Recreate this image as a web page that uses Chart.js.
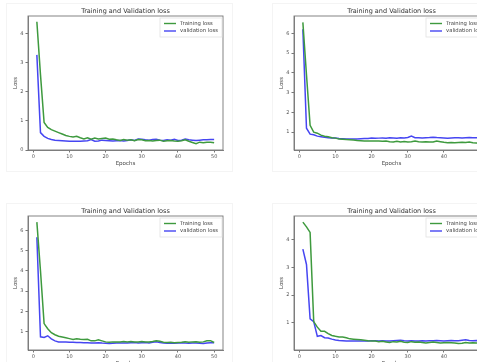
<!DOCTYPE html>
<html lang="en">
<head>
<meta charset="UTF-8">
<title>Training and Validation loss</title>
<script src="https://cdn.jsdelivr.net/npm/chart.js"></script>
<style>
  html, body { margin: 0; padding: 0; background: #fff; overflow: hidden; width: 477px; height: 362px; }
  .fig { position: absolute; width: 240px; height: 180px; }
  canvas { filter: blur(0.3px); }
</style>
</head>
<body>
<div class="fig" style="left:0;top:0"><canvas id="c1" width="240" height="180"></canvas></div>
<div class="fig" style="left:266px;top:0"><canvas id="c2" width="240" height="180"></canvas></div>
<div class="fig" style="left:0;top:200px"><canvas id="c3" width="240" height="180"></canvas></div>
<div class="fig" style="left:266px;top:200px"><canvas id="c4" width="240" height="180"></canvas></div>

<script>
// epochs on the x axis
const epochs = [1,2,3,4,5,6,7,8,9,10,11,12,13,14,15,16,17,18,19,20,21,22,23,24,25,
  26,27,28,29,30,31,32,33,34,35,36,37,38,39,40,41,42,43,44,45,46,47,48,49,50];
const xTicks = [0, 10, 20, 30, 40, 50];

// top left
const train1 = [4.42,2.6,0.95,0.78,0.7,0.65,0.6,0.55,0.5,0.47,0.45,0.47,0.42,0.38,0.42,0.37,0.41,0.38,0.4,0.41,
  0.37,0.38,0.35,0.33,0.36,0.34,0.35,0.32,0.36,0.35,0.32,0.33,0.31,0.33,0.34,0.3,0.32,0.33,0.31,0.3,
  0.32,0.35,0.3,0.26,0.22,0.27,0.25,0.27,0.27,0.25];
const val1 = [3.28,0.6,0.47,0.4,0.36,0.34,0.33,0.32,0.31,0.3,0.3,0.3,0.3,0.31,0.32,0.36,0.3,0.31,0.34,0.33,
  0.32,0.31,0.32,0.33,0.31,0.33,0.35,0.33,0.38,0.37,0.35,0.34,0.36,0.37,0.34,0.33,0.35,0.34,0.37,0.33,
  0.34,0.38,0.35,0.34,0.33,0.34,0.35,0.35,0.36,0.36];

// top right
const train2 = [6.55,3.9,1.35,1.0,0.95,0.85,0.8,0.77,0.72,0.7,0.65,0.64,0.63,0.62,0.6,0.58,0.57,0.56,0.56,0.55,
  0.56,0.55,0.54,0.55,0.52,0.5,0.54,0.5,0.53,0.5,0.52,0.55,0.52,0.5,0.52,0.5,0.51,0.55,0.52,0.49,
  0.47,0.48,0.47,0.48,0.49,0.48,0.5,0.47,0.45,0.42];
const val2 = [6.2,1.2,0.9,0.87,0.8,0.77,0.74,0.72,0.7,0.7,0.68,0.67,0.66,0.66,0.65,0.66,0.67,0.68,0.68,0.7,
  0.69,0.7,0.71,0.7,0.72,0.71,0.7,0.72,0.71,0.73,0.8,0.72,0.72,0.71,0.72,0.73,0.75,0.73,0.72,0.71,
  0.7,0.71,0.72,0.72,0.71,0.72,0.73,0.72,0.72,0.73];

// bottom left
const train3 = [6.4,4.0,1.4,1.15,0.95,0.85,0.78,0.74,0.7,0.66,0.62,0.65,0.63,0.62,0.63,0.55,0.55,0.6,0.55,0.5,
  0.48,0.5,0.49,0.5,0.52,0.5,0.52,0.5,0.5,0.52,0.5,0.5,0.52,0.55,0.53,0.48,0.47,0.48,0.46,0.47,
  0.48,0.5,0.48,0.5,0.51,0.48,0.5,0.55,0.56,0.47];
const val3 = [5.65,0.75,0.72,0.8,0.65,0.55,0.5,0.5,0.49,0.48,0.48,0.47,0.47,0.46,0.46,0.45,0.45,0.46,0.44,0.43,
  0.42,0.43,0.44,0.45,0.44,0.45,0.46,0.47,0.45,0.46,0.47,0.45,0.48,0.5,0.47,0.44,0.43,0.44,0.43,0.44,
  0.46,0.44,0.43,0.44,0.45,0.43,0.42,0.45,0.46,0.46];

// bottom right
const train4 = [4.62,4.45,4.25,1.05,0.85,0.7,0.7,0.62,0.55,0.52,0.5,0.5,0.47,0.43,0.42,0.41,0.4,0.38,0.36,0.35,
  0.35,0.33,0.34,0.32,0.3,0.33,0.32,0.34,0.31,0.3,0.33,0.31,0.32,0.3,0.28,0.3,0.32,0.3,0.28,0.29,
  0.3,0.29,0.28,0.26,0.27,0.3,0.28,0.29,0.28,0.28];
const val4 = [3.65,3.1,1.15,1.05,0.52,0.55,0.47,0.46,0.42,0.39,0.37,0.36,0.35,0.35,0.35,0.35,0.35,0.35,0.35,0.36,
  0.36,0.35,0.36,0.35,0.35,0.36,0.37,0.38,0.36,0.35,0.36,0.35,0.35,0.36,0.35,0.36,0.36,0.37,0.36,0.35,
  0.36,0.37,0.36,0.36,0.38,0.4,0.37,0.36,0.37,0.36];

const FONT = '"DejaVu Sans", sans-serif';
const GREEN = '#3e9a3e';
const BLUE = '#4646f2';

// title above the plot box, full frame and legend box inside the plot (matplotlib look)
const mplDecor = {
  id: 'mplDecor',
  beforeDraw(chart) {
    const ctx = chart.ctx;
    ctx.save();
    ctx.strokeStyle = '#f4f4f4';
    ctx.lineWidth = 1;
    ctx.strokeRect(6.5, 3.5, 226, 168);
    ctx.restore();
  },
  afterDatasetsDraw(chart) {
    const { ctx, chartArea: a } = chart;
    ctx.save();
    // frame
    ctx.strokeStyle = '#777';
    ctx.lineWidth = 0.9;
    ctx.strokeRect(a.left, a.top, a.right - a.left, a.bottom - a.top);
    // title
    ctx.fillStyle = '#333';
    ctx.font = '6.5px ' + FONT;
    ctx.textAlign = 'center';
    ctx.textBaseline = 'middle';
    ctx.fillText('Training and Validation loss', (a.left + a.right) / 2, a.top - 5);
    // legend
    const w = 62, h = 19, x = a.right - w - 1, y = a.top + 2;
    ctx.fillStyle = 'rgba(255,255,255,0.85)';
    ctx.fillRect(x, y, w, h);
    ctx.strokeStyle = '#e2e2e2';
    ctx.lineWidth = 0.8;
    ctx.strokeRect(x, y, w, h);
    ctx.font = '5.3px ' + FONT;
    ctx.textAlign = 'left';
    chart.data.datasets.forEach((ds, i) => {
      const ly = y + 5.5 + i * 7.5;
      ctx.strokeStyle = ds.borderColor;
      ctx.lineWidth = 1.4;
      ctx.beginPath();
      ctx.moveTo(x + 4, ly);
      ctx.lineTo(x + 16, ly);
      ctx.stroke();
      ctx.fillStyle = '#444';
      ctx.fillText(ds.label, x + 20, ly);
    });
    ctx.restore();
  }
};

function makeChart(id, train, val, yMin, yMax) {
  const ctx = document.getElementById(id).getContext('2d');
  return new Chart(ctx, {
    type: 'line',
    data: {
      datasets: [{
        label: 'Training loss',
        data: epochs.map((e, i) => ({ x: e, y: train[i] })),
        borderColor: GREEN,
        borderWidth: 1.5,
        pointRadius: 0,
        tension: 0
      }, {
        label: 'validation loss',
        data: epochs.map((e, i) => ({ x: e, y: val[i] })),
        borderColor: BLUE,
        borderWidth: 1.5,
        pointRadius: 0,
        tension: 0
      }]
    },
    options: {
      responsive: false,
      animation: false,
      layout: { padding: { top: 16, right: 17, left: 0, bottom: 0 } },
      plugins: {
        legend: { display: false },
        tooltip: { enabled: false }
      },
      scales: {
        x: {
          type: 'linear',
          min: -1.45,
          max: 52.45,
          afterFit: s => { s.height = 30; },
          afterBuildTicks: s => { s.ticks = xTicks.map(v => ({ value: v })); },
          ticks: { font: { family: FONT, size: 5 }, color: '#555', padding: 1, maxRotation: 0 },
          grid: { drawOnChartArea: false, tickLength: 2.5, color: '#777' },
          border: { color: '#777', width: 0.9 },
          title: { display: true, text: 'Epochs', color: '#444', font: { family: FONT, size: 5.5 }, padding: { top: 0, bottom: 13.2 } }
        },
        y: {
          min: yMin,
          max: yMax,
          afterFit: s => { s.width = 28; },
          ticks: { stepSize: 1, includeBounds: false, font: { family: FONT, size: 5 }, color: '#555', padding: 2 },
          grid: { drawOnChartArea: false, tickLength: 2.5, color: '#777' },
          border: { color: '#777', width: 0.9 },
          title: { display: true, text: 'Loss', color: '#444', font: { family: FONT, size: 5.5 }, padding: { top: 12.7, bottom: 0 } }
        }
      }
    },
    plugins: [mplDecor]
  });
}

makeChart('c1', train1, val1, 0.0, 4.62);
makeChart('c2', train2, val2, 0.1, 6.87);
makeChart('c3', train3, val3, 0.1, 6.7);
makeChart('c4', train4, val4, 0.03, 4.84);
</script>
</body>
</html>
